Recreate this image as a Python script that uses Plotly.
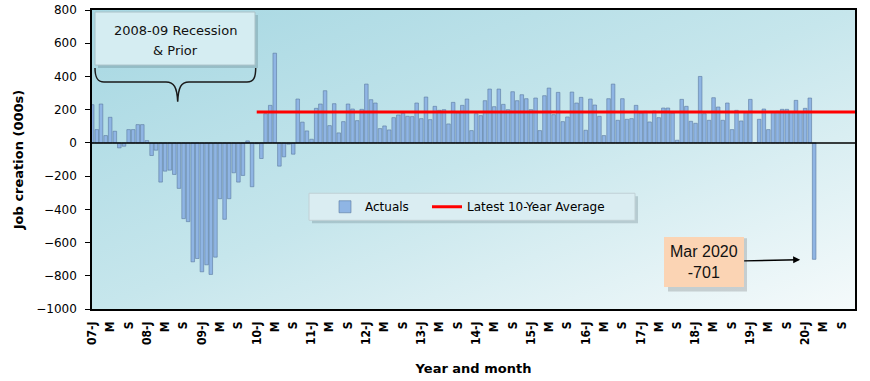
import base64
import pandas as pd
import plotly.graph_objects as go

# ---------------- data (US job creation, 000s, monthly) ----------------
jobs_2007 = [230, 80, 234, 44, 154, 70, -30, -20, 80, 80, 110, 110]
jobs_2008 = [14, -76, -44, -236, -170, -164, -190, -274, -456, -474, -716, -696]
jobs_2009 = [-776, -734, -792, -688, -336, -460, -336, -180, -236, -196, 12, -264]
jobs_2010 = [-5, -94, 176, 226, 540, -140, -84, -8, -68, 264, 125, 72]
jobs_2011 = [22, 208, 234, 314, 104, 236, 60, 128, 234, 204, 134, 202]
jobs_2012 = [354, 260, 240, 86, 102, 78, 152, 168, 178, 160, 158, 240]
jobs_2013 = [146, 276, 140, 220, 196, 200, 114, 244, 182, 226, 264, 74]
jobs_2014 = [176, 164, 254, 324, 218, 324, 232, 200, 308, 254, 290, 266]
jobs_2015 = [200, 270, 74, 284, 330, 170, 304, 128, 156, 306, 240, 274]
jobs_2016 = [76, 264, 228, 160, 44, 266, 354, 136, 266, 142, 146, 226]
jobs_2017 = [180, 190, 126, 192, 152, 210, 210, 180, 16, 262, 220, 130]
jobs_2018 = [118, 400, 176, 136, 272, 216, 136, 240, 80, 196, 132, 182]
jobs_2019 = [262, 2, 142, 204, 80, 186, 190, 202, 202, 185, 256, 184]
jobs_2020 = [208, 270, -701]

first_month = "2007-01-01"
avg_10yr = 186
avg_start, avg_end = "2010-01-01", "2020-12-01"

tick_start, tick_end = "2007-01-01", "2020-09-01"
month_codes = {1: "J", 5: "M", 9: "S"}

callout_month = "2020-03-01"
callout_value = -701
callout_text = "Mar 2020<br>-701"
recession_text = ["2008-09 Recession", "& Prior"]

# ---------------- build series ----------------
jobs = (jobs_2007 + jobs_2008 + jobs_2009 + jobs_2010 + jobs_2011 + jobs_2012 +
        jobs_2013 + jobs_2014 + jobs_2015 + jobs_2016 + jobs_2017 + jobs_2018 +
        jobs_2019 + jobs_2020)
months = pd.date_range(first_month, periods=len(jobs), freq="MS")
avg_months = pd.date_range(avg_start, avg_end, freq="MS")

tick_vals = pd.date_range(tick_start, tick_end, freq="4MS")
tick_labels = [f"{d.year % 100:02d}-J" if d.month == 1 else month_codes[d.month]
               for d in tick_vals]

# ---------------- geometry helpers (pixels -> paper) ----------------
W, H = 870, 381
L, R, T, B = 92, 855, 10, 308.6
def px(x):
    return (x - L) / (R - L)
def py(y):
    return (B - y) / (B - T)

fig = go.Figure()
fig.add_trace(go.Bar(
    x=months, y=jobs, name="Actuals", legend="legend",
    marker=dict(color="#8fb5e4", line=dict(color="#5a789f", width=0.6)),
))
fig.add_trace(go.Scatter(
    x=avg_months, y=[avg_10yr] * len(avg_months), name="Latest 10-Year Average",
    legend="legend2", mode="lines", line=dict(color="#ff0000", width=3),
))

# gradient plot background
svg = ('<svg xmlns="http://www.w3.org/2000/svg" width="763" height="299" '
       'preserveAspectRatio="none" viewBox="0 0 763 299">'
       '<defs><linearGradient id="g" x1="0" y1="0" x2="1" y2="1">'
       '<stop offset="0" stop-color="#a6d7e2"/>'
       '<stop offset="0.5" stop-color="#c6e6ec"/>'
       '<stop offset="1" stop-color="#f5fafb"/>'
       '</linearGradient></defs>'
       '<rect width="763" height="299" fill="url(#g)"/></svg>')
src = "data:image/svg+xml;base64," + base64.b64encode(svg.encode()).decode()
images = [dict(source=src, xref="paper", yref="paper", x=0, y=1, sizex=1, sizey=1,
               xanchor="left", yanchor="top", sizing="stretch", layer="below")]

shapes = []
def rect(x0, y0, x1, y1, fill, line=None, lw=0, layer="above"):
    shapes.append(dict(type="rect", xref="paper", yref="paper",
                       x0=px(x0), x1=px(x1), y0=py(y0), y1=py(y1),
                       fillcolor=fill, line=dict(color=line or "rgba(0,0,0,0)", width=lw),
                       layer=layer))

# zero line above bars
shapes.append(dict(type="line", xref="paper", yref="y", x0=0, x1=1, y0=0, y1=0,
                   line=dict(color="black", width=1.5), layer="above"))

# recession box + brace
rect(98, 15, 258, 68, "rgba(60,80,90,0.22)")
rect(95, 12, 255, 65, "#d5edf2", "#aac2c8", 1)
def P(x, y):
    return f"{px(x):.5f},{py(y):.5f}"
brace = (f"M {P(95,68)} C {P(95,77)} {P(97,82)} {P(104,82)} L {P(166,82)} "
         f"C {P(174,82)} {P(177,87)} {P(177.7,101.7)} "
         f"C {P(178.4,87)} {P(181,82)} {P(189,82)} L {P(247,82)} "
         f"C {P(254,82)} {P(255.7,77)} {P(255.7,68)}")
shapes.append(dict(type="path", xref="paper", yref="paper", path=brace,
                   line=dict(color="#1a1a1a", width=1.5)))

# legend box
rect(312, 196, 638, 223, "rgba(60,80,90,0.22)")
rect(309, 193, 635, 220, "#daedf2", "#c0d0d5", 1)

# callout shadow
rect(668, 238, 747, 291, "rgba(90,90,90,0.25)")

annotations = [
    dict(xref="paper", yref="paper", x=px(175), y=py(30), text=recession_text[0],
         xanchor="center", yanchor="middle", showarrow=False,
         font=dict(family="DejaVu Sans", size=13, color="#111")),
    dict(xref="paper", yref="paper", x=px(175), y=py(50), text=recession_text[1],
         xanchor="center", yanchor="middle", showarrow=False,
         font=dict(family="DejaVu Sans", size=13, color="#111")),
    dict(x=callout_month, y=callout_value, xref="x", yref="y", text=callout_text,
         showarrow=True, ax=-110, ay=2.5, axref="pixel", ayref="pixel",
         arrowhead=2, arrowsize=1, arrowwidth=1.4, arrowcolor="black", standoff=14,
         bgcolor="#fbd4b4", borderpad=6, borderwidth=0,
         font=dict(family="Liberation Sans, Arial", size=16, color="#111")),
]

leg_common = dict(orientation="h", xanchor="left", yanchor="middle", y=py(206.5),
                  bgcolor="rgba(0,0,0,0)", borderwidth=0,
                  font=dict(family="DejaVu Sans", size=12), itemwidth=30)

fig.update_layout(
    width=W, height=H,
    margin=dict(l=L, r=W - R, t=T, b=H - B, autoexpand=False),
    paper_bgcolor="white", plot_bgcolor="rgba(0,0,0,0)",
    bargap=0.15, showlegend=True,
    images=images, shapes=shapes, annotations=annotations,
    font=dict(family="DejaVu Sans", color="black"),
    legend=dict(x=px(325), **leg_common),
    legend2=dict(x=px(427), **leg_common),
)
fig.update_xaxes(
    type="date", range=["2006-12-31", "2020-11-28"], automargin=False,
    tickvals=tick_vals, ticktext=tick_labels, tickangle=-90,
    tickfont=dict(family="Liberation Sans Narrow, DejaVu Sans Condensed, DejaVu Sans", size=12,
                  weight="bold"),
    ticks="", ticklabelstandoff=6,
    showgrid=False, zeroline=False,
    showline=True, linecolor="black", linewidth=1.5, mirror=True,
    title=dict(text="<b>Year and month</b>", standoff=20,
               font=dict(family="DejaVu Sans", size=13)),
)
fig.update_yaxes(
    range=[-1000, 800], dtick=200, showgrid=False, zeroline=False, automargin=False,
    ticks="outside", ticklen=5, tickcolor="black", ticklabelstandoff=6,
    tickfont=dict(family="DejaVu Sans", size=12),
    showline=True, linecolor="black", linewidth=1.5, mirror=True,
    title=dict(text="<b>Job creation (000s)</b>", standoff=10,
               font=dict(family="DejaVu Sans", size=13)),
)

fig.write_html("out.html", config={"displayModeBar": False},
               post_script="document.body.style.margin='0';document.body.style.overflow='hidden';")
